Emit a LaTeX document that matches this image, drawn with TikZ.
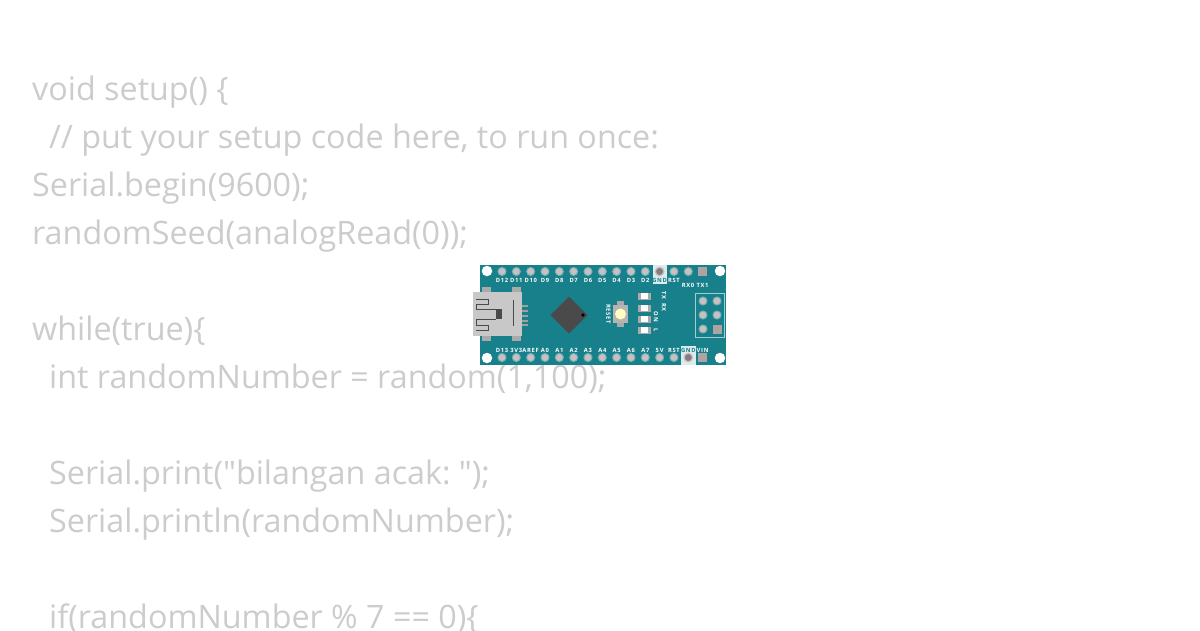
\documentclass[tikz,border=0pt]{standalone}
\usepackage{fontspec}
\setmainfont{Open Sans}
\newfontfamily\codefont{Open Sans}
\newfontfamily\pinfont[LetterSpace=12]{Open Sans}
\definecolor{boardteal}{HTML}{17808A}
\definecolor{codegray}{HTML}{CCCCCC}
\definecolor{pingray}{HTML}{CDBFC0}
\definecolor{usbgray}{HTML}{C8C8C8}
\definecolor{chipgray}{HTML}{4A4A4A}
\definecolor{icspline}{HTML}{9CCFD0}
\tikzset{
  codeline/.style={anchor=base west, inner sep=0pt, text=codegray, font=\codefont\fontsize{32.3}{32}\selectfont},
  pinlabel/.style={inner sep=0pt, text=white, font=\pinfont\fontsize{5.8}{6}\bfseries\selectfont},
  pinhole/.style={circle, fill=pingray, draw=boardteal!60!white, line width=1pt, minimum size=8pt, inner sep=0pt},
  pinsquare/.style={rectangle, fill=pingray!85!black, minimum size=9pt, inner sep=0pt},
  gndhole/.style={circle, fill=pingray!65!black, draw=pingray, line width=1.2pt, minimum size=8.5pt, inner sep=0pt},
  mounthole/.style={circle, fill=white, minimum size=10.5pt, inner sep=0pt}
}
\begin{document}
\begin{tikzpicture}[x=1pt,y=-1pt]
    \useasboundingbox (0,0) rectangle (1200,630);
    \clip (0,0) rectangle (1200,630);

    % Code behind the board
    \foreach \ypos/\xpos/\codetext [count=\i] in {
        100/32/{void setup() \{},
        148/49/{// put your setup code here, to run once:},
        196/32/{Serial.begin(9600);},
        244/32/{randomSeed(analogRead(0));},
        340/32/{while(true)\{},
        388/49/{int randomNumber = random(1,100);},
        484/49/{Serial.print("bilangan acak:\kern-3pt{} ");},
        532/49/{Serial.println(randomNumber);},
        628/49/{if(randomNumber \% 7 == 0)\{}}
        \node[codeline] (code\i) at (\xpos,\ypos) {\codetext};

    % Board
    \fill[boardteal] (480,265) rectangle (726,365);

    % White patches behind GND pins
    \fill[white!85!boardteal] (652.5,265) rectangle (667,284);
    \fill[white!85!boardteal] (681,346) rectangle (696,365);

    % Mounting holes
    \foreach \xpos/\ypos [count=\i] in {487/271,720/271,487/358,720/358}
        \node[mounthole] (mount\i) at (\xpos,\ypos) {};

    % Top pins
    \foreach \pinname/\i in {D12/0,D11/1,D10/2,D9/3,D8/4,D7/5,D6/6,D5/7,D4/8,D3/9,D2/10,RST/12}
        \node[pinlabel] (toplabel\i) at ({502+14.33*\i},280.5) {\pinname};
    \foreach \i in {0,...,10,12,13}
        \node[pinhole] (toppin\i) at ({502+14.33*\i},271.5) {};
    \node[pinsquare] (toppin14) at (702.5,271.5) {};
    \node[gndhole] (topgnd) at (659.6,271.5) {};
    \node[pinlabel] (rxlabel) at (688,285) {RX0};
    \node[pinlabel] (txlabel) at (702.5,285) {TX1};
    \node[pinlabel, text=boardteal] (topgndlabel) at (659.6,280.5) {GND};

    % Bottom pins
    \foreach \pinname/\i in {D13/0,3V3/1,AREF/2,A0/3,A1/4,A2/5,A3/6,A4/7,A5/8,A6/9,A7/10,5V/11,RST/12,VIN/14}
        \node[pinlabel] (botlabel\i) at ({502+14.33*\i},350) {\pinname};
    \foreach \i in {0,...,12}
        \node[pinhole] (botpin\i) at ({502+14.33*\i},357.5) {};
    \node[pinsquare] (botpin14) at (702.5,357.5) {};
    \node[gndhole] (botgnd) at (688.3,357.5) {};
    \node[pinlabel, text=boardteal] (botgndlabel) at (688.3,350) {GND};

    % USB connector
    \foreach \ypos in {306,311,316,321,325}
        \fill[usbgray!80!black] (522,\ypos-1) rectangle (528,\ypos+1);
    \fill[usbgray!85!black] (482,287) rectangle (491,341);
    \fill[usbgray!85!black] (512,287) rectangle (521,341);
    \fill[usbgray] (473,292) rectangle (522,336);
    \draw[chipgray, line width=0.9pt] (476,299) -- (488,299) -- (488,304) -- (476,304) -- (476,309.5) -- (496,309.5);
    \draw[chipgray, line width=0.9pt] (476,330) -- (488,330) -- (488,325) -- (476,325) -- (476,319) -- (496,319);
    \fill[chipgray] (496,309) rectangle (502,319);
    \draw[chipgray, line width=1.1pt] (513.5,300) -- (513.5,326);

    % Chip
    \fill[chipgray] (569,296.5) -- (587.5,315) -- (569,333.5) -- (550.5,315) -- cycle;
    \fill[black] (583,315) circle (1.8);

    % Reset button
    \fill[usbgray!85!black] (617,301) rectangle (624,327);
    \fill[usbgray!90!black] (613,305) rectangle (628,323);
    \node[circle, fill=yellow!25!white, minimum size=11pt, inner sep=0pt] (resetbtn) at (620.5,314) {};
    \node[pinlabel, rotate=-90] (resetlabel) at (608.5,314) {RESET};

    % LEDs
    \foreach \ypos [count=\i] in {296,308,319,330} {
        \fill[usbgray!85!black] (638,\ypos-3.5) rectangle (651,\ypos+3.5);
        \fill[white] (641,\ypos-3) rectangle (648,\ypos+3);
    }
    \node[pinlabel, rotate=-90] (ledtx) at (664,295.5) {TX};
    \node[pinlabel, rotate=-90] (ledrx) at (664,307.5) {RX};
    \node[pinlabel, rotate=-90] (ledon) at (656,317) {ON};
    \node[pinlabel, rotate=-90] (ledl) at (656,330) {L};

    % ICSP header
    \draw[icspline, line width=0.8pt] (695.5,293.5) rectangle (724,337);
    \foreach \xpos/\ypos [count=\i] in {703/301,717/301,703/315,717/315,703/329}
        \node[pinhole] (icsp\i) at (\xpos,\ypos) {};
    \node[pinsquare] (icsp6) at (717,329) {};
\end{tikzpicture}
\end{document}
